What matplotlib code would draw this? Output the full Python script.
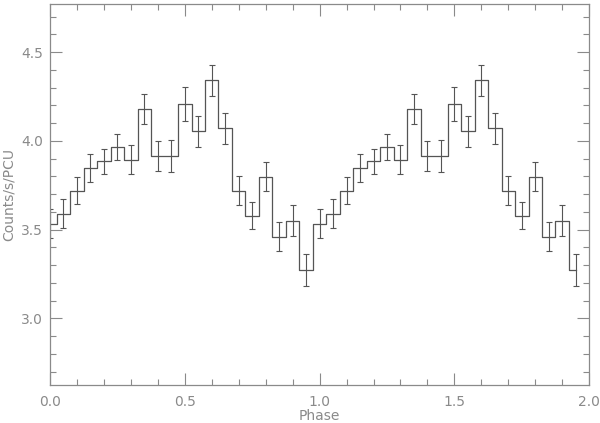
import matplotlib
matplotlib.use('Agg')
import matplotlib.pyplot as plt
import numpy as np
from matplotlib.ticker import MultipleLocator, FormatStrFormatter

# one cycle of the pulse profile, 20 bins, shown twice
phase_one = [0.00, 0.05, 0.10, 0.15, 0.20, 0.25, 0.30, 0.35, 0.40, 0.45,
             0.50, 0.55, 0.60, 0.65, 0.70, 0.75, 0.80, 0.85, 0.90, 0.95]
rate_one = [3.534, 3.590, 3.720, 3.848, 3.885, 3.964, 3.895, 4.182, 3.914, 3.914,
            4.207, 4.053, 4.342, 4.071, 3.720, 3.579, 3.799, 3.461, 3.551, 3.274]
err_one = [0.080, 0.081, 0.077, 0.077, 0.070, 0.074, 0.081, 0.085, 0.084, 0.089,
           0.094, 0.090, 0.087, 0.086, 0.081, 0.078, 0.081, 0.084, 0.087, 0.090]

phase = np.concatenate([phase_one, np.array(phase_one) + 1.0])
rate = np.concatenate([rate_one, rate_one])
err = np.concatenate([err_one, err_one])

axis_col = '#8a8a8a'
data_col = '#555555'

fig = plt.figure(figsize=(6.0, 4.23), dpi=100)
ax = fig.add_axes([0.0833, 0.0887, 0.8987, 0.903])

# IDL psym=10 style: centred steps, half steps at the ends
ax.step(phase, rate, where='mid', color=data_col, linewidth=0.9)
ax.errorbar(phase, rate, yerr=err, fmt='none', ecolor=data_col,
            elinewidth=0.8, capsize=2.2, capthick=0.8)

ax.set_xlim(0, 2.0)
ax.set_ylim(2.622, 4.774)
ax.xaxis.set_major_locator(MultipleLocator(0.5))
ax.xaxis.set_minor_locator(MultipleLocator(0.1))
ax.yaxis.set_major_locator(MultipleLocator(0.5))
ax.yaxis.set_minor_locator(MultipleLocator(0.1))
ax.xaxis.set_major_formatter(FormatStrFormatter('%.1f'))
ax.yaxis.set_major_formatter(FormatStrFormatter('%.1f'))

ax.tick_params(which='both', direction='in', top=True, right=True,
               color=axis_col, labelcolor=axis_col, labelsize=10)
ax.tick_params(which='major', length=8.5, width=0.8)
ax.tick_params(which='minor', length=4, width=0.8)
ax.tick_params(axis='x', which='major', pad=7)
ax.tick_params(axis='y', which='major', pad=5)
for s in ax.spines.values():
    s.set_color(axis_col)
    s.set_linewidth(0.9)

ax.set_xlabel('Phase', color=axis_col, fontsize=10)
ax.xaxis.set_label_coords(0.5, -0.062)
ax.set_ylabel('Counts/s/PCU', color=axis_col, fontsize=10, labelpad=4)

fig.savefig('out.png', dpi=100)
